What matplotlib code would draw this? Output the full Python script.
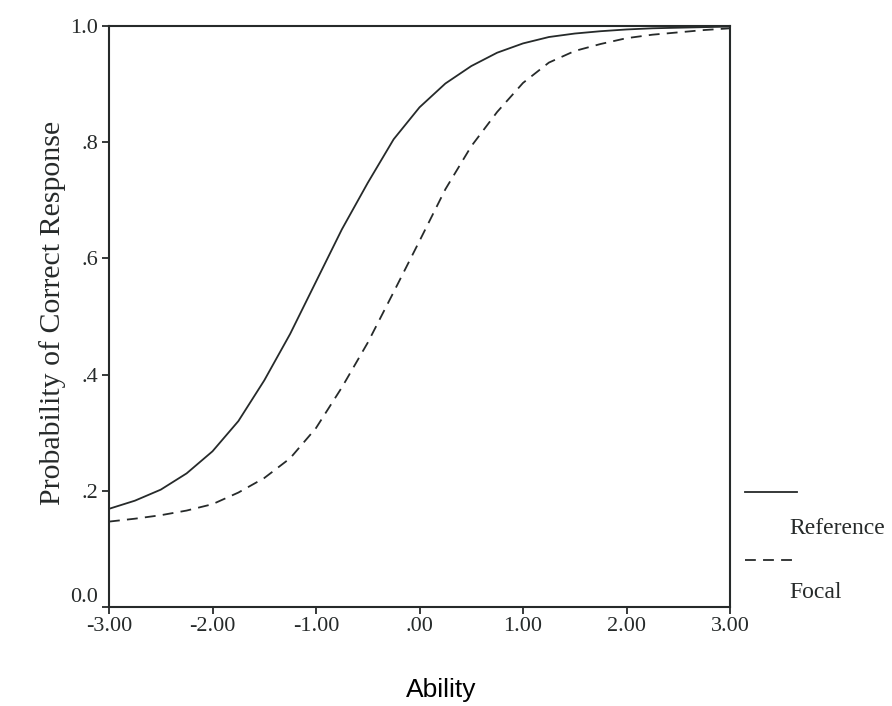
import numpy as np
import matplotlib
matplotlib.use("Agg")
import matplotlib.pyplot as plt
from matplotlib.lines import Line2D

# ability values and read-off probabilities
ability = [-3.0, -2.75, -2.5, -2.25, -2.0, -1.75, -1.5, -1.25, -1.0, -0.75, -0.5, -0.25,
           0.0, 0.25, 0.5, 0.75, 1.0, 1.25, 1.5, 1.75, 2.0, 2.25, 2.5, 2.75, 3.0]
reference = [0.169, 0.183, 0.202, 0.230, 0.268, 0.320, 0.390, 0.470, 0.560, 0.650, 0.730, 0.805,
             0.860, 0.901, 0.931, 0.954, 0.970, 0.981, 0.987, 0.991, 0.994, 0.996, 0.997, 0.998, 0.999]
focal = [0.147, 0.152, 0.158, 0.166, 0.177, 0.197, 0.222, 0.256, 0.308, 0.378, 0.455, 0.542,
         0.630, 0.719, 0.793, 0.852, 0.902, 0.937, 0.957, 0.969, 0.979, 0.985, 0.989, 0.993, 0.996]

xticks = [-3, -2, -1, 0, 1, 2, 3]
xticklabels = ["-3.00", "-2.00", "-1.00", ".00", "1.00", "2.00", "3.00"]
yticks = [0.0, 0.2, 0.4, 0.6, 0.8, 1.0]
yticklabels = ["0.0", ".2", ".4", ".6", ".8", "1.0"]

ink = "#262a2a"
serif = ["Liberation Serif", "DejaVu Serif"]

fig = plt.figure(figsize=(8.92, 7.06), dpi=100)
ax = fig.add_axes([0.1222, 0.1402, 0.6962, 0.823])

ax.plot(ability, reference, color=ink, lw=1.3, solid_capstyle="butt", solid_joinstyle="round")
ax.plot(ability, focal, color=ink, lw=1.3, linestyle=(0, (6, 4)))

ax.set_xlim(-3, 3)
ax.set_ylim(0, 1)
ax.set_xticks(xticks)
ax.set_xticklabels(xticklabels, fontfamily=serif, fontsize=16, color=ink)
ax.set_yticks(yticks)
ax.set_yticklabels(yticklabels, fontfamily=serif, fontsize=16, color=ink)
ax.tick_params(direction="out", length=5, width=1.3, color=ink, pad=3)
ax.tick_params(axis="x", pad=2)
for s in ax.spines.values():
    s.set_linewidth(1.5)
    s.set_color(ink)

# lift the bottom y label off the x labels
ax.get_yticklabels()[0].set_verticalalignment("bottom")

ax.set_ylabel("Probability of Correct Response", fontfamily=serif, fontsize=21.5, color=ink)
ax.yaxis.set_label_coords(-0.069, 0.506)
ax.set_xlabel("Ability", fontfamily=["Liberation Sans", "DejaVu Sans"], fontsize=19, color="black")
ax.xaxis.set_label_coords(0.535, -0.122)

# legend at the right, line above its label
fig.add_artist(Line2D([745 / 892, 797 / 892], [1 - 492 / 706] * 2, color=ink, lw=1.3))
fig.text(789 / 892, 1 - 528 / 706, "Reference", fontfamily=serif, fontsize=17,
         color=ink, ha="left", va="center")
fig.add_artist(Line2D([745 / 892, 797 / 892], [1 - 560 / 706] * 2, color=ink, lw=1.3,
                      linestyle=(0, (6, 4))))
fig.text(789 / 892, 1 - 592 / 706, "Focal", fontfamily=serif, fontsize=17,
         color=ink, ha="left", va="center")

fig.savefig("out.png", dpi=100, facecolor="white")
